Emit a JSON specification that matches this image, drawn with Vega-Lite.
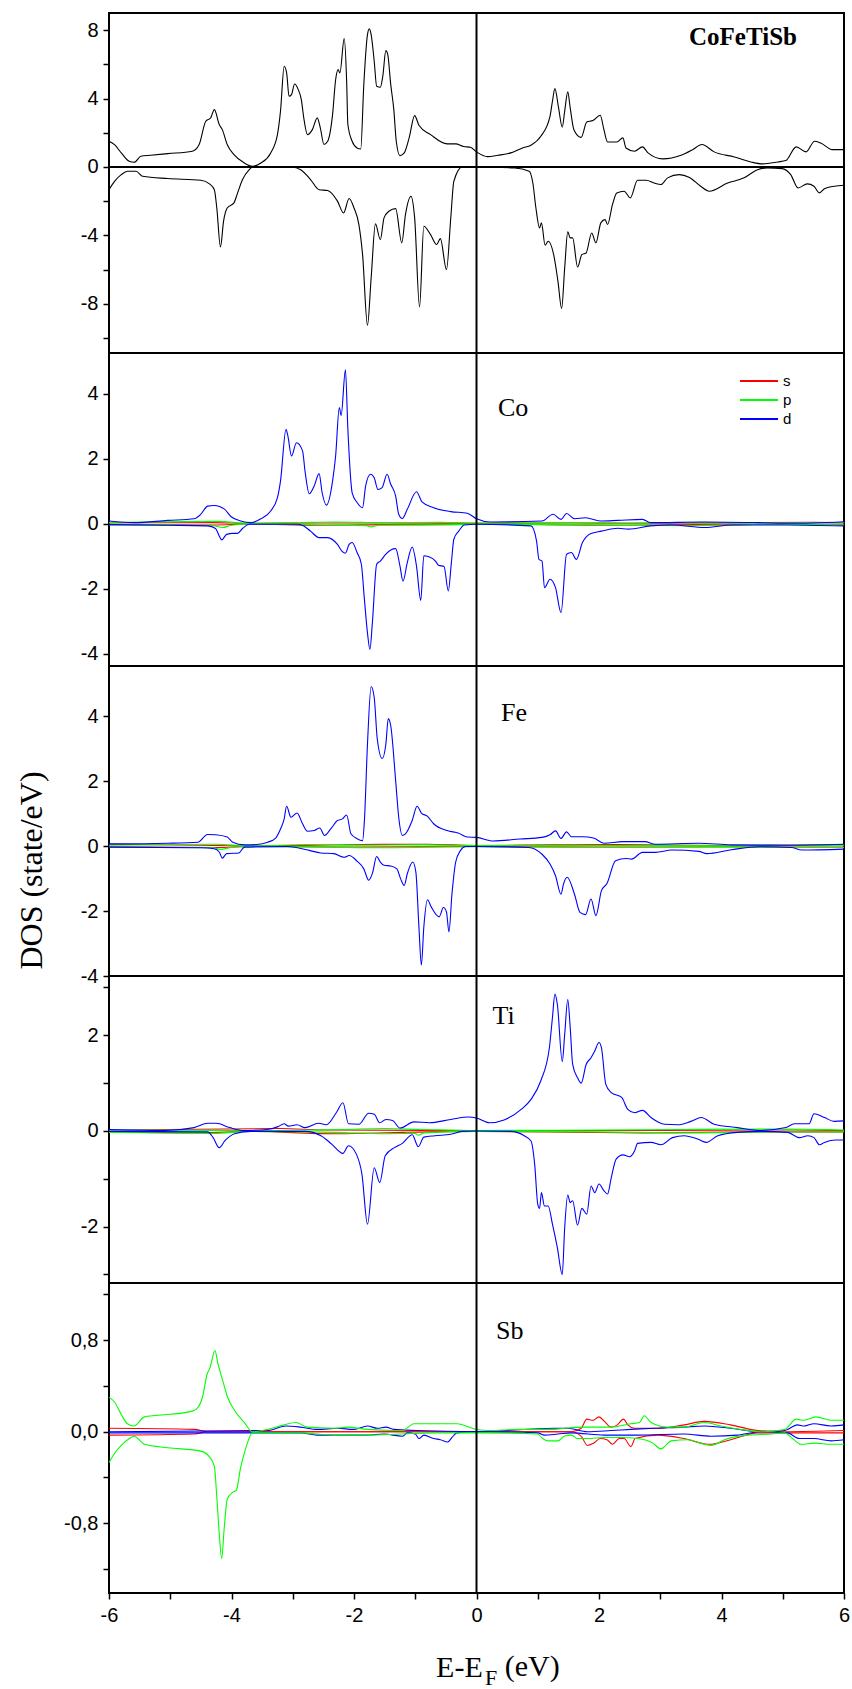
{
"$schema": "https://vega.github.io/schema/vega-lite/v6.json",
"background": "white",
"padding": {"left": 14, "top": 11, "right": 4, "bottom": 0},
"spacing": 0,
"bounds": "flush",
"config": {
  "view": {"stroke": "#000", "strokeWidth": 2},
  "axis": {"domain": false, "grid": false, "tickColor": "#000", "tickWidth": 1.5, "tickSize": 6, "labelFont": "Liberation Sans", "labelFontSize": 20, "labelColor": "#000", "labelPadding": 5, "labelFlush": false, "labelBound": false, "labelOverlap": false, "title": null},
  "text": {"color": "#000"},
  "line": {"interpolate": "monotone"}
},
"resolve": {"scale": {"y": "independent", "x": "shared", "color": "shared"}, "legend": {"color": "independent"}},
"datasets": {
"tot": [
{"spin":"up","E":-6,"dos":1.5},{"spin":"up","E":-5.91,"dos":1.3},{"spin":"up","E":-5.8,"dos":0.82},{"spin":"up","E":-5.67,"dos":0.33},{"spin":"up","E":-5.59,"dos":0.27},{"spin":"up","E":-5.48,"dos":0.62},{"spin":"up","E":-5.32,"dos":0.68},{"spin":"up","E":-5.04,"dos":0.78},{"spin":"up","E":-4.64,"dos":0.92},{"spin":"up","E":-4.53,"dos":1.3},{"spin":"up","E":-4.42,"dos":2.67},{"spin":"up","E":-4.34,"dos":2.87},{"spin":"up","E":-4.28,"dos":3.35},{"spin":"up","E":-4.2,"dos":2.48},{"spin":"up","E":-4.15,"dos":2.18},{"spin":"up","E":-4.07,"dos":1.31},{"spin":"up","E":-3.96,"dos":0.72},{"spin":"up","E":-3.79,"dos":0.23},{"spin":"up","E":-3.66,"dos":0.04},{"spin":"up","E":-3.52,"dos":0.23},{"spin":"up","E":-3.36,"dos":0.82},{"spin":"up","E":-3.25,"dos":1.89},{"spin":"up","E":-3.2,"dos":3.26},{"spin":"up","E":-3.14,"dos":5.89},{"spin":"up","E":-3.1,"dos":5.5},{"spin":"up","E":-3.06,"dos":4.13},{"spin":"up","E":-3.02,"dos":4.23},{"spin":"up","E":-2.97,"dos":4.85},{"spin":"up","E":-2.91,"dos":4.52},{"spin":"up","E":-2.86,"dos":3.94},{"spin":"up","E":-2.82,"dos":2.87},{"spin":"up","E":-2.76,"dos":1.89},{"spin":"up","E":-2.68,"dos":2.18},{"spin":"up","E":-2.6,"dos":2.87},{"spin":"up","E":-2.55,"dos":2.28},{"spin":"up","E":-2.49,"dos":1.31},{"spin":"up","E":-2.43,"dos":1.5},{"spin":"up","E":-2.35,"dos":3.06},{"spin":"up","E":-2.3,"dos":5.1},{"spin":"up","E":-2.26,"dos":5.69},{"spin":"up","E":-2.23,"dos":5.5},{"spin":"up","E":-2.16,"dos":7.5},{"spin":"up","E":-2.12,"dos":5.0},{"spin":"up","E":-2.1,"dos":2.48},{"spin":"up","E":-2.03,"dos":1.5},{"spin":"up","E":-1.95,"dos":1.11},{"spin":"up","E":-1.89,"dos":1.05},{"spin":"up","E":-1.84,"dos":4.81},{"spin":"up","E":-1.78,"dos":7.74},{"spin":"up","E":-1.75,"dos":8.07},{"spin":"up","E":-1.72,"dos":7.74},{"spin":"up","E":-1.67,"dos":6.18},{"spin":"up","E":-1.63,"dos":4.72},{"spin":"up","E":-1.57,"dos":4.66},{"spin":"up","E":-1.53,"dos":5.3},{"spin":"up","E":-1.48,"dos":6.8},{"spin":"up","E":-1.45,"dos":6.6},{"spin":"up","E":-1.4,"dos":4.81},{"spin":"up","E":-1.35,"dos":3.35},{"spin":"up","E":-1.31,"dos":1.5},{"spin":"up","E":-1.25,"dos":0.66},{"spin":"up","E":-1.18,"dos":0.82},{"spin":"up","E":-1.1,"dos":1.7},{"spin":"up","E":-1.01,"dos":3.0},{"spin":"up","E":-0.94,"dos":2.44},{"spin":"up","E":-0.75,"dos":1.89},{"spin":"up","E":-0.48,"dos":1.35},{"spin":"up","E":-0.34,"dos":1.35},{"spin":"up","E":-0.21,"dos":1.19},{"spin":"up","E":-0.1,"dos":1.15},{"spin":"up","E":0,"dos":0.88},{"spin":"up","E":0.18,"dos":0.6},{"spin":"up","E":0.35,"dos":0.68},{"spin":"up","E":0.56,"dos":0.82},{"spin":"up","E":0.75,"dos":1.11},{"spin":"up","E":0.89,"dos":1.27},{"spin":"up","E":1.05,"dos":1.79},{"spin":"up","E":1.2,"dos":2.96},{"spin":"up","E":1.24,"dos":3.84},{"spin":"up","E":1.28,"dos":4.58},{"spin":"up","E":1.34,"dos":3.45},{"spin":"up","E":1.4,"dos":2.32},{"spin":"up","E":1.44,"dos":3.26},{"spin":"up","E":1.49,"dos":4.39},{"spin":"up","E":1.53,"dos":3.45},{"spin":"up","E":1.59,"dos":2.18},{"spin":"up","E":1.71,"dos":1.73},{"spin":"up","E":1.8,"dos":2.63},{"spin":"up","E":1.9,"dos":2.71},{"spin":"up","E":2.02,"dos":3.02},{"spin":"up","E":2.08,"dos":2.18},{"spin":"up","E":2.14,"dos":1.46},{"spin":"up","E":2.29,"dos":1.46},{"spin":"up","E":2.39,"dos":1.7},{"spin":"up","E":2.44,"dos":1.11},{"spin":"up","E":2.58,"dos":0.92},{"spin":"up","E":2.71,"dos":1.17},{"spin":"up","E":2.8,"dos":0.82},{"spin":"up","E":3.04,"dos":0.47},{"spin":"up","E":3.34,"dos":0.68},{"spin":"up","E":3.53,"dos":1.01},{"spin":"up","E":3.68,"dos":1.31},{"spin":"up","E":3.88,"dos":0.88},{"spin":"up","E":4.21,"dos":0.58},{"spin":"up","E":4.48,"dos":0.29},{"spin":"up","E":4.67,"dos":0.18},{"spin":"up","E":4.92,"dos":0.29},{"spin":"up","E":5.05,"dos":0.37},{"spin":"up","E":5.22,"dos":1.17},{"spin":"up","E":5.38,"dos":0.88},{"spin":"up","E":5.52,"dos":1.5},{"spin":"up","E":5.62,"dos":1.4},{"spin":"up","E":5.81,"dos":1.01},{"spin":"up","E":6,"dos":1.01},
{"spin":"dn","E":-6,"dos":-1.33},{"spin":"dn","E":-5.91,"dos":-0.84},{"spin":"dn","E":-5.8,"dos":-0.45},{"spin":"dn","E":-5.7,"dos":-0.25},{"spin":"dn","E":-5.56,"dos":-0.25},{"spin":"dn","E":-5.45,"dos":-0.55},{"spin":"dn","E":-5.04,"dos":-0.68},{"spin":"dn","E":-4.5,"dos":-0.78},{"spin":"dn","E":-4.36,"dos":-0.99},{"spin":"dn","E":-4.28,"dos":-1.33},{"spin":"dn","E":-4.24,"dos":-2.4},{"spin":"dn","E":-4.18,"dos":-4.68},{"spin":"dn","E":-4.13,"dos":-3.18},{"spin":"dn","E":-4.07,"dos":-2.4},{"spin":"dn","E":-3.96,"dos":-2.1},{"spin":"dn","E":-3.9,"dos":-1.52},{"spin":"dn","E":-3.82,"dos":-0.74},{"spin":"dn","E":-3.71,"dos":-0.16},{"spin":"dn","E":-3.66,"dos":0},{"spin":"dn","E":-3.01,"dos":-0.02},{"spin":"dn","E":-2.87,"dos":-0.16},{"spin":"dn","E":-2.71,"dos":-0.74},{"spin":"dn","E":-2.57,"dos":-1.33},{"spin":"dn","E":-2.43,"dos":-1.38},{"spin":"dn","E":-2.27,"dos":-2.0},{"spin":"dn","E":-2.17,"dos":-2.69},{"spin":"dn","E":-2.08,"dos":-1.85},{"spin":"dn","E":-2.0,"dos":-2.4},{"spin":"dn","E":-1.92,"dos":-3.37},{"spin":"dn","E":-1.86,"dos":-5.13},{"spin":"dn","E":-1.78,"dos":-9.26},{"spin":"dn","E":-1.72,"dos":-6.49},{"spin":"dn","E":-1.65,"dos":-3.33},{"spin":"dn","E":-1.57,"dos":-4.25},{"spin":"dn","E":-1.51,"dos":-2.98},{"spin":"dn","E":-1.43,"dos":-2.59},{"spin":"dn","E":-1.32,"dos":-2.44},{"spin":"dn","E":-1.22,"dos":-4.44},{"spin":"dn","E":-1.16,"dos":-2.79},{"spin":"dn","E":-1.07,"dos":-1.72},{"spin":"dn","E":-1.01,"dos":-2.98},{"spin":"dn","E":-0.93,"dos":-8.19},{"spin":"dn","E":-0.86,"dos":-3.47},{"spin":"dn","E":-0.75,"dos":-3.96},{"spin":"dn","E":-0.65,"dos":-4.54},{"spin":"dn","E":-0.59,"dos":-4.19},{"spin":"dn","E":-0.49,"dos":-6.0},{"spin":"dn","E":-0.42,"dos":-2.98},{"spin":"dn","E":-0.37,"dos":-0.84},{"spin":"dn","E":-0.23,"dos":0},{"spin":"dn","E":0,"dos":0},{"spin":"dn","E":0.62,"dos":-0.06},{"spin":"dn","E":0.86,"dos":-0.25},{"spin":"dn","E":0.92,"dos":-0.94},{"spin":"dn","E":0.97,"dos":-2.4},{"spin":"dn","E":1.03,"dos":-3.57},{"spin":"dn","E":1.06,"dos":-3.27},{"spin":"dn","E":1.12,"dos":-4.58},{"spin":"dn","E":1.17,"dos":-4.35},{"spin":"dn","E":1.26,"dos":-5.13},{"spin":"dn","E":1.33,"dos":-6.69},{"spin":"dn","E":1.39,"dos":-8.28},{"spin":"dn","E":1.44,"dos":-5.9},{"spin":"dn","E":1.49,"dos":-3.8},{"spin":"dn","E":1.53,"dos":-4.15},{"spin":"dn","E":1.57,"dos":-4.15},{"spin":"dn","E":1.65,"dos":-5.85},{"spin":"dn","E":1.72,"dos":-5.13},{"spin":"dn","E":1.79,"dos":-5.03},{"spin":"dn","E":1.88,"dos":-3.86},{"spin":"dn","E":1.95,"dos":-4.44},{"spin":"dn","E":2.03,"dos":-3.27},{"spin":"dn","E":2.1,"dos":-3.08},{"spin":"dn","E":2.14,"dos":-3.37},{"spin":"dn","E":2.22,"dos":-2.2},{"spin":"dn","E":2.29,"dos":-1.52},{"spin":"dn","E":2.41,"dos":-1.42},{"spin":"dn","E":2.51,"dos":-1.81},{"spin":"dn","E":2.63,"dos":-0.78},{"spin":"dn","E":2.77,"dos":-0.78},{"spin":"dn","E":2.9,"dos":-0.94},{"spin":"dn","E":3.01,"dos":-1.03},{"spin":"dn","E":3.12,"dos":-0.64},{"spin":"dn","E":3.31,"dos":-0.45},{"spin":"dn","E":3.47,"dos":-0.6},{"spin":"dn","E":3.66,"dos":-1.13},{"spin":"dn","E":3.8,"dos":-1.42},{"spin":"dn","E":4.1,"dos":-0.94},{"spin":"dn","E":4.37,"dos":-0.64},{"spin":"dn","E":4.59,"dos":-0.16},{"spin":"dn","E":4.75,"dos":-0.06},{"spin":"dn","E":4.99,"dos":-0.1},{"spin":"dn","E":5.13,"dos":-0.45},{"spin":"dn","E":5.25,"dos":-1.23},{"spin":"dn","E":5.4,"dos":-0.99},{"spin":"dn","E":5.51,"dos":-1.13},{"spin":"dn","E":5.6,"dos":-1.52},{"spin":"dn","E":5.68,"dos":-1.27},{"spin":"dn","E":5.84,"dos":-1.13},{"spin":"dn","E":6,"dos":-1.07}
],
"co": [
{"orb":"s","spin":"up","E":-6,"dos":0.02},{"orb":"s","spin":"up","E":-4.3,"dos":0.03},{"orb":"s","spin":"up","E":-3.7,"dos":0.01},{"orb":"s","spin":"up","E":-2.6,"dos":0.02},{"orb":"s","spin":"up","E":-1,"dos":0.02},{"orb":"s","spin":"up","E":0,"dos":0.01},{"orb":"s","spin":"up","E":1.5,"dos":0.02},{"orb":"s","spin":"up","E":2.5,"dos":0.01},{"orb":"s","spin":"up","E":4,"dos":0.02},{"orb":"s","spin":"up","E":5.5,"dos":0.04},{"orb":"s","spin":"up","E":6,"dos":0.03},
{"orb":"s","spin":"dn","E":-6,"dos":-0.03},{"orb":"s","spin":"dn","E":-4.3,"dos":-0.04},{"orb":"s","spin":"dn","E":-3.7,"dos":-0.01},{"orb":"s","spin":"dn","E":-2.6,"dos":-0.05},{"orb":"s","spin":"dn","E":-1.5,"dos":-0.03},{"orb":"s","spin":"dn","E":0,"dos":-0.01},{"orb":"s","spin":"dn","E":1.5,"dos":-0.04},{"orb":"s","spin":"dn","E":2.3,"dos":-0.05},{"orb":"s","spin":"dn","E":4,"dos":-0.02},{"orb":"s","spin":"dn","E":6,"dos":-0.02},
{"orb":"p","spin":"up","E":-6,"dos":0.03},{"orb":"p","spin":"up","E":-4.25,"dos":0.07},{"orb":"p","spin":"up","E":-3.7,"dos":0.01},{"orb":"p","spin":"up","E":-2.9,"dos":0.03},{"orb":"p","spin":"up","E":-2.3,"dos":0.05},{"orb":"p","spin":"up","E":-1.5,"dos":0.03},{"orb":"p","spin":"up","E":-0.6,"dos":0.04},{"orb":"p","spin":"up","E":0,"dos":0.02},{"orb":"p","spin":"up","E":1.5,"dos":0.03},{"orb":"p","spin":"up","E":2.5,"dos":0.02},{"orb":"p","spin":"up","E":3.6,"dos":0.04},{"orb":"p","spin":"up","E":4.5,"dos":0.02},{"orb":"p","spin":"up","E":6,"dos":0.03},
{"orb":"p","spin":"dn","E":-6,"dos":-0.03},{"orb":"p","spin":"dn","E":-4.3,"dos":-0.06},{"orb":"p","spin":"dn","E":-4.15,"dos":-0.12},{"orb":"p","spin":"dn","E":-4.0,"dos":-0.05},{"orb":"p","spin":"dn","E":-3.7,"dos":-0.01},{"orb":"p","spin":"dn","E":-2.5,"dos":-0.04},{"orb":"p","spin":"dn","E":-1.8,"dos":-0.06},{"orb":"p","spin":"dn","E":-1.72,"dos":-0.1},{"orb":"p","spin":"dn","E":-1.6,"dos":-0.05},{"orb":"p","spin":"dn","E":-0.5,"dos":-0.04},{"orb":"p","spin":"dn","E":0,"dos":-0.02},{"orb":"p","spin":"dn","E":1.5,"dos":-0.03},{"orb":"p","spin":"dn","E":3.5,"dos":-0.06},{"orb":"p","spin":"dn","E":4.3,"dos":-0.05},{"orb":"p","spin":"dn","E":4.6,"dos":-0.02},{"orb":"p","spin":"dn","E":6,"dos":-0.04},
{"orb":"d","spin":"up","E":-6,"dos":0.08},{"orb":"d","spin":"up","E":-5.59,"dos":0.03},{"orb":"d","spin":"up","E":-5.04,"dos":0.1},{"orb":"d","spin":"up","E":-4.61,"dos":0.15},{"orb":"d","spin":"up","E":-4.5,"dos":0.29},{"orb":"d","spin":"up","E":-4.39,"dos":0.54},{"orb":"d","spin":"up","E":-4.28,"dos":0.56},{"orb":"d","spin":"up","E":-4.11,"dos":0.44},{"orb":"d","spin":"up","E":-4.01,"dos":0.22},{"orb":"d","spin":"up","E":-3.85,"dos":0.08},{"orb":"d","spin":"up","E":-3.68,"dos":0.03},{"orb":"d","spin":"up","E":-3.52,"dos":0.15},{"orb":"d","spin":"up","E":-3.36,"dos":0.39},{"orb":"d","spin":"up","E":-3.25,"dos":0.8},{"orb":"d","spin":"up","E":-3.2,"dos":1.31},{"orb":"d","spin":"up","E":-3.11,"dos":2.9},{"orb":"d","spin":"up","E":-3.08,"dos":2.7},{"orb":"d","spin":"up","E":-3.02,"dos":2.08},{"orb":"d","spin":"up","E":-2.94,"dos":2.49},{"orb":"d","spin":"up","E":-2.84,"dos":2.24},{"orb":"d","spin":"up","E":-2.8,"dos":1.62},{"orb":"d","spin":"up","E":-2.73,"dos":0.92},{"orb":"d","spin":"up","E":-2.65,"dos":1.16},{"orb":"d","spin":"up","E":-2.57,"dos":1.54},{"orb":"d","spin":"up","E":-2.52,"dos":0.95},{"orb":"d","spin":"up","E":-2.45,"dos":0.57},{"orb":"d","spin":"up","E":-2.35,"dos":1.31},{"orb":"d","spin":"up","E":-2.3,"dos":2.08},{"orb":"d","spin":"up","E":-2.24,"dos":3.57},{"orb":"d","spin":"up","E":-2.21,"dos":3.33},{"orb":"d","spin":"up","E":-2.14,"dos":4.73},{"orb":"d","spin":"up","E":-2.1,"dos":2.9},{"orb":"d","spin":"up","E":-2.03,"dos":0.95},{"orb":"d","spin":"up","E":-1.95,"dos":0.65},{"orb":"d","spin":"up","E":-1.86,"dos":0.49},{"orb":"d","spin":"up","E":-1.81,"dos":1.16},{"orb":"d","spin":"up","E":-1.73,"dos":1.52},{"orb":"d","spin":"up","E":-1.67,"dos":1.41},{"orb":"d","spin":"up","E":-1.61,"dos":1.05},{"orb":"d","spin":"up","E":-1.54,"dos":1.11},{"orb":"d","spin":"up","E":-1.46,"dos":1.52},{"orb":"d","spin":"up","E":-1.4,"dos":1.21},{"orb":"d","spin":"up","E":-1.32,"dos":0.85},{"orb":"d","spin":"up","E":-1.27,"dos":0.29},{"orb":"d","spin":"up","E":-1.21,"dos":0.16},{"orb":"d","spin":"up","E":-1.13,"dos":0.44},{"orb":"d","spin":"up","E":-0.98,"dos":0.98},{"orb":"d","spin":"up","E":-0.89,"dos":0.67},{"orb":"d","spin":"up","E":-0.7,"dos":0.49},{"orb":"d","spin":"up","E":-0.42,"dos":0.37},{"orb":"d","spin":"up","E":-0.15,"dos":0.32},{"orb":"d","spin":"up","E":0,"dos":0.15},{"orb":"d","spin":"up","E":0.23,"dos":0.05},{"orb":"d","spin":"up","E":1.07,"dos":0.08},{"orb":"d","spin":"up","E":1.25,"dos":0.29},{"orb":"d","spin":"up","E":1.38,"dos":0.13},{"orb":"d","spin":"up","E":1.47,"dos":0.31},{"orb":"d","spin":"up","E":1.6,"dos":0.15},{"orb":"d","spin":"up","E":1.78,"dos":0.18},{"orb":"d","spin":"up","E":2.04,"dos":0.08},{"orb":"d","spin":"up","E":2.31,"dos":0.1},{"orb":"d","spin":"up","E":2.71,"dos":0.13},{"orb":"d","spin":"up","E":2.84,"dos":0.03},{"orb":"d","spin":"up","E":3.73,"dos":0.05},{"orb":"d","spin":"up","E":4.61,"dos":0.03},{"orb":"d","spin":"up","E":5.14,"dos":0.01},{"orb":"d","spin":"up","E":6,"dos":0.06},
{"orb":"d","spin":"dn","E":-6,"dos":-0.03},{"orb":"d","spin":"dn","E":-5.04,"dos":-0.05},{"orb":"d","spin":"dn","E":-4.39,"dos":-0.07},{"orb":"d","spin":"dn","E":-4.26,"dos":-0.15},{"orb":"d","spin":"dn","E":-4.2,"dos":-0.38},{"orb":"d","spin":"dn","E":-4.16,"dos":-0.5},{"orb":"d","spin":"dn","E":-4.08,"dos":-0.33},{"orb":"d","spin":"dn","E":-3.98,"dos":-0.3},{"orb":"d","spin":"dn","E":-3.9,"dos":-0.3},{"orb":"d","spin":"dn","E":-3.82,"dos":-0.15},{"orb":"d","spin":"dn","E":-3.71,"dos":-0.02},{"orb":"d","spin":"dn","E":-2.92,"dos":-0.02},{"orb":"d","spin":"dn","E":-2.82,"dos":-0.07},{"orb":"d","spin":"dn","E":-2.71,"dos":-0.23},{"orb":"d","spin":"dn","E":-2.57,"dos":-0.43},{"orb":"d","spin":"dn","E":-2.43,"dos":-0.43},{"orb":"d","spin":"dn","E":-2.27,"dos":-0.64},{"orb":"d","spin":"dn","E":-2.19,"dos":-0.86},{"orb":"d","spin":"dn","E":-2.14,"dos":-0.91},{"orb":"d","spin":"dn","E":-2.08,"dos":-0.64},{"orb":"d","spin":"dn","E":-2.03,"dos":-0.58},{"orb":"d","spin":"dn","E":-1.95,"dos":-0.89},{"orb":"d","spin":"dn","E":-1.88,"dos":-1.25},{"orb":"d","spin":"dn","E":-1.83,"dos":-2.33},{"orb":"d","spin":"dn","E":-1.78,"dos":-3.36},{"orb":"d","spin":"dn","E":-1.74,"dos":-3.87},{"orb":"d","spin":"dn","E":-1.7,"dos":-3.05},{"orb":"d","spin":"dn","E":-1.63,"dos":-1.25},{"orb":"d","spin":"dn","E":-1.57,"dos":-1.15},{"orb":"d","spin":"dn","E":-1.48,"dos":-0.94},{"orb":"d","spin":"dn","E":-1.4,"dos":-0.81},{"orb":"d","spin":"dn","E":-1.32,"dos":-0.77},{"orb":"d","spin":"dn","E":-1.25,"dos":-1.3},{"orb":"d","spin":"dn","E":-1.2,"dos":-1.77},{"orb":"d","spin":"dn","E":-1.13,"dos":-1.2},{"orb":"d","spin":"dn","E":-1.05,"dos":-0.72},{"orb":"d","spin":"dn","E":-0.98,"dos":-1.3},{"orb":"d","spin":"dn","E":-0.91,"dos":-2.36},{"orb":"d","spin":"dn","E":-0.86,"dos":-0.99},{"orb":"d","spin":"dn","E":-0.78,"dos":-1.02},{"orb":"d","spin":"dn","E":-0.67,"dos":-1.15},{"orb":"d","spin":"dn","E":-0.62,"dos":-1.28},{"orb":"d","spin":"dn","E":-0.53,"dos":-1.32},{"orb":"d","spin":"dn","E":-0.46,"dos":-2.07},{"orb":"d","spin":"dn","E":-0.41,"dos":-1.2},{"orb":"d","spin":"dn","E":-0.37,"dos":-0.48},{"orb":"d","spin":"dn","E":-0.29,"dos":-0.23},{"orb":"d","spin":"dn","E":-0.2,"dos":-0.04},{"orb":"d","spin":"dn","E":0,"dos":-0.02},{"orb":"d","spin":"dn","E":0.89,"dos":-0.07},{"orb":"d","spin":"dn","E":0.98,"dos":-0.53},{"orb":"d","spin":"dn","E":1.02,"dos":-1.1},{"orb":"d","spin":"dn","E":1.07,"dos":-1.15},{"orb":"d","spin":"dn","E":1.11,"dos":-1.97},{"orb":"d","spin":"dn","E":1.2,"dos":-1.71},{"orb":"d","spin":"dn","E":1.29,"dos":-1.97},{"orb":"d","spin":"dn","E":1.38,"dos":-2.74},{"orb":"d","spin":"dn","E":1.47,"dos":-0.94},{"orb":"d","spin":"dn","E":1.55,"dos":-0.89},{"orb":"d","spin":"dn","E":1.63,"dos":-1.1},{"orb":"d","spin":"dn","E":1.73,"dos":-0.58},{"orb":"d","spin":"dn","E":1.86,"dos":-0.31},{"orb":"d","spin":"dn","E":2.04,"dos":-0.23},{"orb":"d","spin":"dn","E":2.31,"dos":-0.14},{"orb":"d","spin":"dn","E":2.48,"dos":-0.17},{"orb":"d","spin":"dn","E":2.84,"dos":-0.07},{"orb":"d","spin":"dn","E":3.19,"dos":-0.04},{"orb":"d","spin":"dn","E":3.73,"dos":-0.12},{"orb":"d","spin":"dn","E":4.17,"dos":-0.04},{"orb":"d","spin":"dn","E":5.05,"dos":-0.04},{"orb":"d","spin":"dn","E":6,"dos":-0.07}
],
"fe": [
{"orb":"s","spin":"up","E":-6,"dos":0.06},{"orb":"s","spin":"up","E":-4.5,"dos":0.03},{"orb":"s","spin":"up","E":-3.7,"dos":0.01},{"orb":"s","spin":"up","E":-1.9,"dos":0.05},{"orb":"s","spin":"up","E":-0.8,"dos":0.06},{"orb":"s","spin":"up","E":0,"dos":0.02},{"orb":"s","spin":"up","E":1.2,"dos":0.04},{"orb":"s","spin":"up","E":2.3,"dos":0.05},{"orb":"s","spin":"up","E":4,"dos":0.02},{"orb":"s","spin":"up","E":6,"dos":0.05},
{"orb":"s","spin":"dn","E":-6,"dos":-0.02},{"orb":"s","spin":"dn","E":-4.2,"dos":-0.04},{"orb":"s","spin":"dn","E":-3.7,"dos":-0.01},{"orb":"s","spin":"dn","E":-2,"dos":-0.03},{"orb":"s","spin":"dn","E":0,"dos":-0.01},{"orb":"s","spin":"dn","E":2,"dos":-0.03},{"orb":"s","spin":"dn","E":4,"dos":-0.02},{"orb":"s","spin":"dn","E":6,"dos":-0.03},
{"orb":"p","spin":"up","E":-6,"dos":0.03},{"orb":"p","spin":"up","E":-4.25,"dos":0.06},{"orb":"p","spin":"up","E":-3.7,"dos":0.01},{"orb":"p","spin":"up","E":-2.7,"dos":0.05},{"orb":"p","spin":"up","E":-1.8,"dos":0.03},{"orb":"p","spin":"up","E":-0.9,"dos":0.04},{"orb":"p","spin":"up","E":0,"dos":0.02},{"orb":"p","spin":"up","E":2,"dos":0.02},{"orb":"p","spin":"up","E":4,"dos":0.01},{"orb":"p","spin":"up","E":6,"dos":0.03},
{"orb":"p","spin":"dn","E":-6,"dos":-0.03},{"orb":"p","spin":"dn","E":-4.3,"dos":-0.05},{"orb":"p","spin":"dn","E":-4.18,"dos":-0.1},{"orb":"p","spin":"dn","E":-4.0,"dos":-0.04},{"orb":"p","spin":"dn","E":-3.7,"dos":-0.01},{"orb":"p","spin":"dn","E":-2.5,"dos":-0.03},{"orb":"p","spin":"dn","E":-1.5,"dos":-0.05},{"orb":"p","spin":"dn","E":0,"dos":-0.02},{"orb":"p","spin":"dn","E":2,"dos":-0.04},{"orb":"p","spin":"dn","E":4,"dos":-0.03},{"orb":"p","spin":"dn","E":6,"dos":-0.04},
{"orb":"d","spin":"up","E":-6,"dos":0.07},{"orb":"d","spin":"up","E":-5.04,"dos":0.09},{"orb":"d","spin":"up","E":-4.55,"dos":0.12},{"orb":"d","spin":"up","E":-4.39,"dos":0.36},{"orb":"d","spin":"up","E":-4.26,"dos":0.35},{"orb":"d","spin":"up","E":-4.07,"dos":0.28},{"orb":"d","spin":"up","E":-3.98,"dos":0.12},{"orb":"d","spin":"up","E":-3.79,"dos":0.04},{"orb":"d","spin":"up","E":-3.58,"dos":0.05},{"orb":"d","spin":"up","E":-3.41,"dos":0.12},{"orb":"d","spin":"up","E":-3.28,"dos":0.25},{"orb":"d","spin":"up","E":-3.2,"dos":0.53},{"orb":"d","spin":"up","E":-3.14,"dos":0.84},{"orb":"d","spin":"up","E":-3.1,"dos":1.23},{"orb":"d","spin":"up","E":-3.03,"dos":0.89},{"orb":"d","spin":"up","E":-2.93,"dos":1.02},{"orb":"d","spin":"up","E":-2.84,"dos":0.69},{"orb":"d","spin":"up","E":-2.76,"dos":0.46},{"orb":"d","spin":"up","E":-2.65,"dos":0.48},{"orb":"d","spin":"up","E":-2.56,"dos":0.56},{"orb":"d","spin":"up","E":-2.48,"dos":0.33},{"orb":"d","spin":"up","E":-2.38,"dos":0.53},{"orb":"d","spin":"up","E":-2.27,"dos":0.79},{"orb":"d","spin":"up","E":-2.19,"dos":0.84},{"orb":"d","spin":"up","E":-2.12,"dos":0.96},{"orb":"d","spin":"up","E":-2.05,"dos":0.38},{"orb":"d","spin":"up","E":-1.95,"dos":0.23},{"orb":"d","spin":"up","E":-1.86,"dos":0.17},{"orb":"d","spin":"up","E":-1.83,"dos":0.79},{"orb":"d","spin":"up","E":-1.78,"dos":3.14},{"orb":"d","spin":"up","E":-1.72,"dos":4.92},{"orb":"d","spin":"up","E":-1.67,"dos":4.58},{"orb":"d","spin":"up","E":-1.62,"dos":3.3},{"orb":"d","spin":"up","E":-1.54,"dos":2.7},{"orb":"d","spin":"up","E":-1.48,"dos":3.14},{"orb":"d","spin":"up","E":-1.44,"dos":3.93},{"orb":"d","spin":"up","E":-1.4,"dos":3.71},{"orb":"d","spin":"up","E":-1.32,"dos":2.02},{"orb":"d","spin":"up","E":-1.27,"dos":0.89},{"orb":"d","spin":"up","E":-1.21,"dos":0.33},{"orb":"d","spin":"up","E":-1.16,"dos":0.38},{"orb":"d","spin":"up","E":-1.05,"dos":0.79},{"orb":"d","spin":"up","E":-0.97,"dos":1.23},{"orb":"d","spin":"up","E":-0.9,"dos":1.02},{"orb":"d","spin":"up","E":-0.8,"dos":0.92},{"orb":"d","spin":"up","E":-0.7,"dos":0.69},{"orb":"d","spin":"up","E":-0.48,"dos":0.48},{"orb":"d","spin":"up","E":-0.29,"dos":0.4},{"orb":"d","spin":"up","E":-0.15,"dos":0.28},{"orb":"d","spin":"up","E":0,"dos":0.27},{"orb":"d","spin":"up","E":0.27,"dos":0.16},{"orb":"d","spin":"up","E":0.71,"dos":0.22},{"orb":"d","spin":"up","E":1.07,"dos":0.27},{"orb":"d","spin":"up","E":1.2,"dos":0.35},{"orb":"d","spin":"up","E":1.29,"dos":0.47},{"orb":"d","spin":"up","E":1.38,"dos":0.24},{"orb":"d","spin":"up","E":1.47,"dos":0.44},{"orb":"d","spin":"up","E":1.55,"dos":0.29},{"orb":"d","spin":"up","E":1.73,"dos":0.29},{"orb":"d","spin":"up","E":1.91,"dos":0.25},{"orb":"d","spin":"up","E":2.08,"dos":0.09},{"orb":"d","spin":"up","E":2.39,"dos":0.14},{"orb":"d","spin":"up","E":2.75,"dos":0.14},{"orb":"d","spin":"up","E":2.92,"dos":0.06},{"orb":"d","spin":"up","E":3.63,"dos":0.09},{"orb":"d","spin":"up","E":4.16,"dos":0.04},{"orb":"d","spin":"up","E":5.04,"dos":0.03},{"orb":"d","spin":"up","E":6,"dos":0.06},
{"orb":"d","spin":"dn","E":-6,"dos":-0.03},{"orb":"d","spin":"dn","E":-4.5,"dos":-0.05},{"orb":"d","spin":"dn","E":-4.28,"dos":-0.08},{"orb":"d","spin":"dn","E":-4.2,"dos":-0.18},{"orb":"d","spin":"dn","E":-4.15,"dos":-0.37},{"orb":"d","spin":"dn","E":-4.08,"dos":-0.23},{"orb":"d","spin":"dn","E":-3.88,"dos":-0.21},{"orb":"d","spin":"dn","E":-3.79,"dos":-0.03},{"orb":"d","spin":"dn","E":-3.09,"dos":-0.01},{"orb":"d","spin":"dn","E":-2.92,"dos":-0.05},{"orb":"d","spin":"dn","E":-2.73,"dos":-0.13},{"orb":"d","spin":"dn","E":-2.54,"dos":-0.21},{"orb":"d","spin":"dn","E":-2.33,"dos":-0.23},{"orb":"d","spin":"dn","E":-2.16,"dos":-0.34},{"orb":"d","spin":"dn","E":-2.08,"dos":-0.29},{"orb":"d","spin":"dn","E":-1.95,"dos":-0.46},{"orb":"d","spin":"dn","E":-1.84,"dos":-0.7},{"orb":"d","spin":"dn","E":-1.76,"dos":-1.05},{"orb":"d","spin":"dn","E":-1.7,"dos":-0.84},{"orb":"d","spin":"dn","E":-1.63,"dos":-0.32},{"orb":"d","spin":"dn","E":-1.57,"dos":-0.49},{"orb":"d","spin":"dn","E":-1.51,"dos":-0.59},{"orb":"d","spin":"dn","E":-1.4,"dos":-0.61},{"orb":"d","spin":"dn","E":-1.3,"dos":-0.7},{"orb":"d","spin":"dn","E":-1.24,"dos":-1.0},{"orb":"d","spin":"dn","E":-1.18,"dos":-1.21},{"orb":"d","spin":"dn","E":-1.13,"dos":-0.85},{"orb":"d","spin":"dn","E":-1.04,"dos":-0.49},{"orb":"d","spin":"dn","E":-0.99,"dos":-0.8},{"orb":"d","spin":"dn","E":-0.94,"dos":-2.49},{"orb":"d","spin":"dn","E":-0.9,"dos":-3.66},{"orb":"d","spin":"dn","E":-0.86,"dos":-2.49},{"orb":"d","spin":"dn","E":-0.8,"dos":-1.65},{"orb":"d","spin":"dn","E":-0.74,"dos":-1.87},{"orb":"d","spin":"dn","E":-0.61,"dos":-2.18},{"orb":"d","spin":"dn","E":-0.54,"dos":-1.89},{"orb":"d","spin":"dn","E":-0.49,"dos":-2.03},{"orb":"d","spin":"dn","E":-0.45,"dos":-2.64},{"orb":"d","spin":"dn","E":-0.4,"dos":-1.46},{"orb":"d","spin":"dn","E":-0.34,"dos":-0.49},{"orb":"d","spin":"dn","E":-0.26,"dos":-0.13},{"orb":"d","spin":"dn","E":-0.18,"dos":-0.01},{"orb":"d","spin":"dn","E":0,"dos":-0.01},{"orb":"d","spin":"dn","E":0.85,"dos":-0.04},{"orb":"d","spin":"dn","E":1.07,"dos":-0.25},{"orb":"d","spin":"dn","E":1.2,"dos":-0.55},{"orb":"d","spin":"dn","E":1.29,"dos":-0.91},{"orb":"d","spin":"dn","E":1.38,"dos":-1.48},{"orb":"d","spin":"dn","E":1.42,"dos":-1.17},{"orb":"d","spin":"dn","E":1.48,"dos":-0.96},{"orb":"d","spin":"dn","E":1.6,"dos":-1.48},{"orb":"d","spin":"dn","E":1.69,"dos":-2.04},{"orb":"d","spin":"dn","E":1.78,"dos":-2.11},{"orb":"d","spin":"dn","E":1.87,"dos":-1.63},{"orb":"d","spin":"dn","E":1.95,"dos":-2.14},{"orb":"d","spin":"dn","E":2.04,"dos":-1.37},{"orb":"d","spin":"dn","E":2.13,"dos":-1.15},{"orb":"d","spin":"dn","E":2.27,"dos":-0.45},{"orb":"d","spin":"dn","E":2.44,"dos":-0.38},{"orb":"d","spin":"dn","E":2.53,"dos":-0.4},{"orb":"d","spin":"dn","E":2.71,"dos":-0.19},{"orb":"d","spin":"dn","E":2.92,"dos":-0.19},{"orb":"d","spin":"dn","E":3.19,"dos":-0.12},{"orb":"d","spin":"dn","E":3.63,"dos":-0.16},{"orb":"d","spin":"dn","E":3.76,"dos":-0.23},{"orb":"d","spin":"dn","E":4.16,"dos":-0.11},{"orb":"d","spin":"dn","E":4.61,"dos":-0.02},{"orb":"d","spin":"dn","E":5.14,"dos":-0.04},{"orb":"d","spin":"dn","E":5.31,"dos":-0.12},{"orb":"d","spin":"dn","E":6,"dos":-0.09}
],
"ti": [
{"orb":"s","spin":"up","E":-6,"dos":0.02},{"orb":"s","spin":"up","E":-3.2,"dos":0.05},{"orb":"s","spin":"up","E":-2.5,"dos":0.02},{"orb":"s","spin":"up","E":0,"dos":0.01},{"orb":"s","spin":"up","E":3,"dos":0.01},{"orb":"s","spin":"up","E":5,"dos":0.02},{"orb":"s","spin":"up","E":6,"dos":0.01},
{"orb":"s","spin":"dn","E":-6,"dos":-0.02},{"orb":"s","spin":"dn","E":-4.5,"dos":-0.04},{"orb":"s","spin":"dn","E":-3.7,"dos":-0.01},{"orb":"s","spin":"dn","E":-2.3,"dos":-0.06},{"orb":"s","spin":"dn","E":-1.9,"dos":-0.05},{"orb":"s","spin":"dn","E":-1.2,"dos":-0.03},{"orb":"s","spin":"dn","E":0,"dos":-0.01},{"orb":"s","spin":"dn","E":1.8,"dos":-0.03},{"orb":"s","spin":"dn","E":2.8,"dos":-0.04},{"orb":"s","spin":"dn","E":4.5,"dos":-0.02},{"orb":"s","spin":"dn","E":6,"dos":-0.02},
{"orb":"p","spin":"up","E":-6,"dos":0.02},{"orb":"p","spin":"up","E":-3.5,"dos":0.01},{"orb":"p","spin":"up","E":-2.2,"dos":0.03},{"orb":"p","spin":"up","E":-1.5,"dos":0.05},{"orb":"p","spin":"up","E":-0.9,"dos":0.03},{"orb":"p","spin":"up","E":0,"dos":0.01},{"orb":"p","spin":"up","E":2,"dos":0.02},{"orb":"p","spin":"up","E":3.3,"dos":0.03},{"orb":"p","spin":"up","E":5.1,"dos":0.04},{"orb":"p","spin":"up","E":6,"dos":0.02},
{"orb":"p","spin":"dn","E":-6,"dos":-0.03},{"orb":"p","spin":"dn","E":-4.3,"dos":-0.05},{"orb":"p","spin":"dn","E":-3.7,"dos":-0.01},{"orb":"p","spin":"dn","E":-2.3,"dos":-0.03},{"orb":"p","spin":"dn","E":-1.5,"dos":-0.06},{"orb":"p","spin":"dn","E":-1.0,"dos":-0.05},{"orb":"p","spin":"dn","E":-0.95,"dos":-0.09},{"orb":"p","spin":"dn","E":-0.85,"dos":-0.04},{"orb":"p","spin":"dn","E":0,"dos":-0.01},{"orb":"p","spin":"dn","E":2,"dos":-0.02},{"orb":"p","spin":"dn","E":3.5,"dos":-0.04},{"orb":"p","spin":"dn","E":5,"dos":-0.02},{"orb":"p","spin":"dn","E":6,"dos":-0.02},
{"orb":"d","spin":"up","E":-6,"dos":0.03},{"orb":"d","spin":"up","E":-5.09,"dos":0.01},{"orb":"d","spin":"up","E":-4.61,"dos":0.07},{"orb":"d","spin":"up","E":-4.39,"dos":0.16},{"orb":"d","spin":"up","E":-4.25,"dos":0.16},{"orb":"d","spin":"up","E":-4.03,"dos":0.07},{"orb":"d","spin":"up","E":-3.81,"dos":0.01},{"orb":"d","spin":"up","E":-3.42,"dos":0.03},{"orb":"d","spin":"up","E":-3.24,"dos":0.09},{"orb":"d","spin":"up","E":-3.14,"dos":0.15},{"orb":"d","spin":"up","E":-3.07,"dos":0.1},{"orb":"d","spin":"up","E":-2.93,"dos":0.13},{"orb":"d","spin":"up","E":-2.8,"dos":0.07},{"orb":"d","spin":"up","E":-2.58,"dos":0.16},{"orb":"d","spin":"up","E":-2.45,"dos":0.13},{"orb":"d","spin":"up","E":-2.29,"dos":0.38},{"orb":"d","spin":"up","E":-2.18,"dos":0.59},{"orb":"d","spin":"up","E":-2.09,"dos":0.15},{"orb":"d","spin":"up","E":-1.92,"dos":0.14},{"orb":"d","spin":"up","E":-1.76,"dos":0.37},{"orb":"d","spin":"up","E":-1.67,"dos":0.35},{"orb":"d","spin":"up","E":-1.58,"dos":0.17},{"orb":"d","spin":"up","E":-1.48,"dos":0.24},{"orb":"d","spin":"up","E":-1.37,"dos":0.22},{"orb":"d","spin":"up","E":-1.25,"dos":0.06},{"orb":"d","spin":"up","E":-1.02,"dos":0.19},{"orb":"d","spin":"up","E":-0.77,"dos":0.17},{"orb":"d","spin":"up","E":-0.42,"dos":0.24},{"orb":"d","spin":"up","E":-0.13,"dos":0.29},{"orb":"d","spin":"up","E":0,"dos":0.27},{"orb":"d","spin":"up","E":0.21,"dos":0.17},{"orb":"d","spin":"up","E":0.45,"dos":0.23},{"orb":"d","spin":"up","E":0.73,"dos":0.45},{"orb":"d","spin":"up","E":0.89,"dos":0.66},{"orb":"d","spin":"up","E":1.05,"dos":1.05},{"orb":"d","spin":"up","E":1.19,"dos":1.74},{"orb":"d","spin":"up","E":1.24,"dos":2.37},{"orb":"d","spin":"up","E":1.28,"dos":2.86},{"orb":"d","spin":"up","E":1.32,"dos":2.65},{"orb":"d","spin":"up","E":1.4,"dos":1.45},{"orb":"d","spin":"up","E":1.44,"dos":2.02},{"orb":"d","spin":"up","E":1.49,"dos":2.75},{"orb":"d","spin":"up","E":1.53,"dos":2.16},{"orb":"d","spin":"up","E":1.57,"dos":1.39},{"orb":"d","spin":"up","E":1.65,"dos":1.11},{"orb":"d","spin":"up","E":1.71,"dos":1.0},{"orb":"d","spin":"up","E":1.79,"dos":1.39},{"orb":"d","spin":"up","E":1.87,"dos":1.53},{"orb":"d","spin":"up","E":1.93,"dos":1.67},{"orb":"d","spin":"up","E":2.0,"dos":1.85},{"orb":"d","spin":"up","E":2.04,"dos":1.74},{"orb":"d","spin":"up","E":2.11,"dos":0.98},{"orb":"d","spin":"up","E":2.2,"dos":0.8},{"orb":"d","spin":"up","E":2.37,"dos":0.7},{"orb":"d","spin":"up","E":2.47,"dos":0.45},{"orb":"d","spin":"up","E":2.58,"dos":0.38},{"orb":"d","spin":"up","E":2.71,"dos":0.43},{"orb":"d","spin":"up","E":2.85,"dos":0.28},{"orb":"d","spin":"up","E":3.07,"dos":0.14},{"orb":"d","spin":"up","E":3.29,"dos":0.13},{"orb":"d","spin":"up","E":3.5,"dos":0.2},{"orb":"d","spin":"up","E":3.67,"dos":0.28},{"orb":"d","spin":"up","E":3.88,"dos":0.14},{"orb":"d","spin":"up","E":4.26,"dos":0.07},{"orb":"d","spin":"up","E":4.64,"dos":0.01},{"orb":"d","spin":"up","E":5.05,"dos":0.07},{"orb":"d","spin":"up","E":5.19,"dos":0.15},{"orb":"d","spin":"up","E":5.43,"dos":0.15},{"orb":"d","spin":"up","E":5.51,"dos":0.36},{"orb":"d","spin":"up","E":5.68,"dos":0.28},{"orb":"d","spin":"up","E":5.84,"dos":0.2},{"orb":"d","spin":"up","E":6,"dos":0.21},
{"orb":"d","spin":"dn","E":-6,"dos":-0.01},{"orb":"d","spin":"dn","E":-4.39,"dos":-0.02},{"orb":"d","spin":"dn","E":-4.3,"dos":-0.14},{"orb":"d","spin":"dn","E":-4.2,"dos":-0.35},{"orb":"d","spin":"dn","E":-4.11,"dos":-0.21},{"orb":"d","spin":"dn","E":-3.95,"dos":-0.06},{"orb":"d","spin":"dn","E":-3.68,"dos":-0.01},{"orb":"d","spin":"dn","E":-2.8,"dos":-0.01},{"orb":"d","spin":"dn","E":-2.54,"dos":-0.1},{"orb":"d","spin":"dn","E":-2.36,"dos":-0.28},{"orb":"d","spin":"dn","E":-2.18,"dos":-0.47},{"orb":"d","spin":"dn","E":-2.09,"dos":-0.31},{"orb":"d","spin":"dn","E":-1.96,"dos":-0.49},{"orb":"d","spin":"dn","E":-1.87,"dos":-0.91},{"orb":"d","spin":"dn","E":-1.78,"dos":-1.95},{"orb":"d","spin":"dn","E":-1.67,"dos":-0.77},{"orb":"d","spin":"dn","E":-1.58,"dos":-1.08},{"orb":"d","spin":"dn","E":-1.49,"dos":-0.52},{"orb":"d","spin":"dn","E":-1.34,"dos":-0.35},{"orb":"d","spin":"dn","E":-1.21,"dos":-0.26},{"orb":"d","spin":"dn","E":-1.05,"dos":-0.08},{"orb":"d","spin":"dn","E":-0.95,"dos":-0.33},{"orb":"d","spin":"dn","E":-0.86,"dos":-0.13},{"orb":"d","spin":"dn","E":-0.68,"dos":-0.1},{"orb":"d","spin":"dn","E":-0.42,"dos":-0.07},{"orb":"d","spin":"dn","E":-0.24,"dos":-0.01},{"orb":"d","spin":"dn","E":0,"dos":0},{"orb":"d","spin":"dn","E":0.56,"dos":-0.01},{"orb":"d","spin":"dn","E":0.78,"dos":-0.1},{"orb":"d","spin":"dn","E":0.89,"dos":-0.21},{"orb":"d","spin":"dn","E":0.95,"dos":-0.7},{"orb":"d","spin":"dn","E":1.0,"dos":-1.53},{"orb":"d","spin":"dn","E":1.03,"dos":-1.62},{"orb":"d","spin":"dn","E":1.06,"dos":-1.29},{"orb":"d","spin":"dn","E":1.11,"dos":-1.57},{"orb":"d","spin":"dn","E":1.17,"dos":-1.57},{"orb":"d","spin":"dn","E":1.24,"dos":-1.95},{"orb":"d","spin":"dn","E":1.32,"dos":-2.44},{"orb":"d","spin":"dn","E":1.4,"dos":-3.0},{"orb":"d","spin":"dn","E":1.44,"dos":-2.02},{"orb":"d","spin":"dn","E":1.49,"dos":-1.34},{"orb":"d","spin":"dn","E":1.53,"dos":-1.5},{"orb":"d","spin":"dn","E":1.57,"dos":-1.46},{"orb":"d","spin":"dn","E":1.65,"dos":-1.97},{"orb":"d","spin":"dn","E":1.72,"dos":-1.62},{"orb":"d","spin":"dn","E":1.8,"dos":-1.74},{"orb":"d","spin":"dn","E":1.87,"dos":-1.15},{"orb":"d","spin":"dn","E":1.93,"dos":-1.29},{"orb":"d","spin":"dn","E":2.0,"dos":-1.11},{"orb":"d","spin":"dn","E":2.08,"dos":-1.25},{"orb":"d","spin":"dn","E":2.14,"dos":-1.32},{"orb":"d","spin":"dn","E":2.2,"dos":-0.98},{"orb":"d","spin":"dn","E":2.28,"dos":-0.59},{"orb":"d","spin":"dn","E":2.39,"dos":-0.5},{"orb":"d","spin":"dn","E":2.5,"dos":-0.54},{"orb":"d","spin":"dn","E":2.58,"dos":-0.42},{"orb":"d","spin":"dn","E":2.63,"dos":-0.26},{"orb":"d","spin":"dn","E":2.85,"dos":-0.24},{"orb":"d","spin":"dn","E":3.01,"dos":-0.29},{"orb":"d","spin":"dn","E":3.2,"dos":-0.14},{"orb":"d","spin":"dn","E":3.39,"dos":-0.1},{"orb":"d","spin":"dn","E":3.61,"dos":-0.17},{"orb":"d","spin":"dn","E":3.75,"dos":-0.24},{"orb":"d","spin":"dn","E":3.94,"dos":-0.1},{"orb":"d","spin":"dn","E":4.26,"dos":-0.03},{"orb":"d","spin":"dn","E":4.64,"dos":-0.01},{"orb":"d","spin":"dn","E":5.08,"dos":-0.03},{"orb":"d","spin":"dn","E":5.27,"dos":-0.14},{"orb":"d","spin":"dn","E":5.41,"dos":-0.1},{"orb":"d","spin":"dn","E":5.51,"dos":-0.14},{"orb":"d","spin":"dn","E":5.6,"dos":-0.29},{"orb":"d","spin":"dn","E":5.68,"dos":-0.24},{"orb":"d","spin":"dn","E":5.87,"dos":-0.19},{"orb":"d","spin":"dn","E":6,"dos":-0.19}
],
"sb": [
{"orb":"s","spin":"up","E":-6,"dos":0.03},{"orb":"s","spin":"up","E":-4.6,"dos":0.02},{"orb":"s","spin":"up","E":-4.4,"dos":0.0},{"orb":"s","spin":"up","E":1.55,"dos":0.0},{"orb":"s","spin":"up","E":1.71,"dos":0.03},{"orb":"s","spin":"up","E":1.8,"dos":0.11},{"orb":"s","spin":"up","E":1.9,"dos":0.1},{"orb":"s","spin":"up","E":2.0,"dos":0.13},{"orb":"s","spin":"up","E":2.09,"dos":0.09},{"orb":"s","spin":"up","E":2.2,"dos":0.04},{"orb":"s","spin":"up","E":2.3,"dos":0.06},{"orb":"s","spin":"up","E":2.4,"dos":0.11},{"orb":"s","spin":"up","E":2.47,"dos":0.06},{"orb":"s","spin":"up","E":2.58,"dos":0.03},{"orb":"s","spin":"up","E":2.96,"dos":0.03},{"orb":"s","spin":"up","E":3.39,"dos":0.06},{"orb":"s","spin":"up","E":3.72,"dos":0.09},{"orb":"s","spin":"up","E":4.15,"dos":0.06},{"orb":"s","spin":"up","E":4.59,"dos":0.01},{"orb":"s","spin":"up","E":5.03,"dos":0.0},{"orb":"s","spin":"up","E":6,"dos":0.01},
{"orb":"s","spin":"dn","E":-6,"dos":-0.03},{"orb":"s","spin":"dn","E":-4.6,"dos":-0.02},{"orb":"s","spin":"dn","E":-4.4,"dos":0.0},{"orb":"s","spin":"dn","E":1.55,"dos":0.0},{"orb":"s","spin":"dn","E":1.71,"dos":-0.04},{"orb":"s","spin":"dn","E":1.81,"dos":-0.12},{"orb":"s","spin":"dn","E":1.91,"dos":-0.1},{"orb":"s","spin":"dn","E":2.02,"dos":-0.06},{"orb":"s","spin":"dn","E":2.13,"dos":-0.07},{"orb":"s","spin":"dn","E":2.22,"dos":-0.11},{"orb":"s","spin":"dn","E":2.33,"dos":-0.06},{"orb":"s","spin":"dn","E":2.41,"dos":-0.06},{"orb":"s","spin":"dn","E":2.52,"dos":-0.13},{"orb":"s","spin":"dn","E":2.59,"dos":-0.06},{"orb":"s","spin":"dn","E":2.96,"dos":-0.03},{"orb":"s","spin":"dn","E":3.39,"dos":-0.06},{"orb":"s","spin":"dn","E":3.8,"dos":-0.11},{"orb":"s","spin":"dn","E":4.15,"dos":-0.07},{"orb":"s","spin":"dn","E":4.59,"dos":-0.01},{"orb":"s","spin":"dn","E":6,"dos":-0.01},
{"orb":"d","spin":"up","E":-6,"dos":0.0},{"orb":"d","spin":"up","E":-3.41,"dos":0.01},{"orb":"d","spin":"up","E":-3.11,"dos":0.05},{"orb":"d","spin":"up","E":-2.87,"dos":0.04},{"orb":"d","spin":"up","E":-2.6,"dos":0.02},{"orb":"d","spin":"up","E":-2.27,"dos":0.03},{"orb":"d","spin":"up","E":-2.0,"dos":0.02},{"orb":"d","spin":"up","E":-1.78,"dos":0.05},{"orb":"d","spin":"up","E":-1.62,"dos":0.03},{"orb":"d","spin":"up","E":-1.48,"dos":0.04},{"orb":"d","spin":"up","E":-1.35,"dos":0.02},{"orb":"d","spin":"up","E":-0.97,"dos":0.01},{"orb":"d","spin":"up","E":0,"dos":0.0},{"orb":"d","spin":"up","E":1.27,"dos":0.03},{"orb":"d","spin":"up","E":1.49,"dos":0.03},{"orb":"d","spin":"up","E":1.81,"dos":0.0},{"orb":"d","spin":"up","E":2.2,"dos":0.01},{"orb":"d","spin":"up","E":2.52,"dos":0.02},{"orb":"d","spin":"up","E":2.9,"dos":0.03},{"orb":"d","spin":"up","E":3.39,"dos":0.04},{"orb":"d","spin":"up","E":3.72,"dos":0.05},{"orb":"d","spin":"up","E":4.15,"dos":0.03},{"orb":"d","spin":"up","E":4.59,"dos":0.0},{"orb":"d","spin":"up","E":5.03,"dos":0.01},{"orb":"d","spin":"up","E":5.24,"dos":0.06},{"orb":"d","spin":"up","E":5.35,"dos":0.05},{"orb":"d","spin":"up","E":5.51,"dos":0.07},{"orb":"d","spin":"up","E":5.79,"dos":0.05},{"orb":"d","spin":"up","E":6,"dos":0.06},
{"orb":"d","spin":"dn","E":-6,"dos":-0.01},{"orb":"d","spin":"dn","E":-3.41,"dos":-0.01},{"orb":"d","spin":"dn","E":-2.87,"dos":-0.01},{"orb":"d","spin":"dn","E":-2.6,"dos":-0.03},{"orb":"d","spin":"dn","E":-2.22,"dos":-0.03},{"orb":"d","spin":"dn","E":-1.78,"dos":-0.03},{"orb":"d","spin":"dn","E":-1.51,"dos":-0.02},{"orb":"d","spin":"dn","E":-1.21,"dos":-0.04},{"orb":"d","spin":"dn","E":-1.13,"dos":-0.01},{"orb":"d","spin":"dn","E":-1.0,"dos":-0.02},{"orb":"d","spin":"dn","E":-0.94,"dos":-0.06},{"orb":"d","spin":"dn","E":-0.86,"dos":-0.03},{"orb":"d","spin":"dn","E":-0.7,"dos":-0.06},{"orb":"d","spin":"dn","E":-0.59,"dos":-0.07},{"orb":"d","spin":"dn","E":-0.47,"dos":-0.09},{"orb":"d","spin":"dn","E":-0.4,"dos":-0.05},{"orb":"d","spin":"dn","E":-0.32,"dos":-0.01},{"orb":"d","spin":"dn","E":0,"dos":0.0},{"orb":"d","spin":"dn","E":1.0,"dos":-0.01},{"orb":"d","spin":"dn","E":1.11,"dos":-0.03},{"orb":"d","spin":"dn","E":1.33,"dos":-0.02},{"orb":"d","spin":"dn","E":1.55,"dos":-0.01},{"orb":"d","spin":"dn","E":2.09,"dos":-0.03},{"orb":"d","spin":"dn","E":2.63,"dos":-0.03},{"orb":"d","spin":"dn","E":3.39,"dos":-0.02},{"orb":"d","spin":"dn","E":3.83,"dos":-0.04},{"orb":"d","spin":"dn","E":4.26,"dos":-0.03},{"orb":"d","spin":"dn","E":4.64,"dos":0.0},{"orb":"d","spin":"dn","E":5.08,"dos":-0.01},{"orb":"d","spin":"dn","E":5.27,"dos":-0.06},{"orb":"d","spin":"dn","E":5.51,"dos":-0.06},{"orb":"d","spin":"dn","E":5.79,"dos":-0.08},{"orb":"d","spin":"dn","E":6,"dos":-0.07},
{"orb":"p","spin":"up","E":-6,"dos":0.3},{"orb":"p","spin":"up","E":-5.91,"dos":0.26},{"orb":"p","spin":"up","E":-5.8,"dos":0.15},{"orb":"p","spin":"up","E":-5.7,"dos":0.07},{"orb":"p","spin":"up","E":-5.59,"dos":0.05},{"orb":"p","spin":"up","E":-5.42,"dos":0.13},{"orb":"p","spin":"up","E":-5.04,"dos":0.15},{"orb":"p","spin":"up","E":-4.64,"dos":0.18},{"orb":"p","spin":"up","E":-4.55,"dos":0.21},{"orb":"p","spin":"up","E":-4.47,"dos":0.31},{"orb":"p","spin":"up","E":-4.4,"dos":0.5},{"orb":"p","spin":"up","E":-4.35,"dos":0.56},{"orb":"p","spin":"up","E":-4.27,"dos":0.71},{"orb":"p","spin":"up","E":-4.22,"dos":0.59},{"orb":"p","spin":"up","E":-4.15,"dos":0.46},{"orb":"p","spin":"up","E":-4.07,"dos":0.31},{"orb":"p","spin":"up","E":-3.93,"dos":0.17},{"orb":"p","spin":"up","E":-3.79,"dos":0.08},{"orb":"p","spin":"up","E":-3.66,"dos":0.0},{"orb":"p","spin":"up","E":-3.41,"dos":0.02},{"orb":"p","spin":"up","E":-3.14,"dos":0.06},{"orb":"p","spin":"up","E":-2.95,"dos":0.08},{"orb":"p","spin":"up","E":-2.76,"dos":0.04},{"orb":"p","spin":"up","E":-2.33,"dos":0.03},{"orb":"p","spin":"up","E":-2.11,"dos":0.04},{"orb":"p","spin":"up","E":-1.78,"dos":0.02},{"orb":"p","spin":"up","E":-1.35,"dos":0.01},{"orb":"p","spin":"up","E":-1.21,"dos":0.01},{"orb":"p","spin":"up","E":-1.02,"dos":0.07},{"orb":"p","spin":"up","E":-0.32,"dos":0.07},{"orb":"p","spin":"up","E":0,"dos":0.02},{"orb":"p","spin":"up","E":0.18,"dos":0.01},{"orb":"p","spin":"up","E":0.73,"dos":0.02},{"orb":"p","spin":"up","E":1.27,"dos":0.02},{"orb":"p","spin":"up","E":1.43,"dos":0.03},{"orb":"p","spin":"up","E":1.81,"dos":0.04},{"orb":"p","spin":"up","E":2.2,"dos":0.04},{"orb":"p","spin":"up","E":2.52,"dos":0.07},{"orb":"p","spin":"up","E":2.66,"dos":0.08},{"orb":"p","spin":"up","E":2.74,"dos":0.14},{"orb":"p","spin":"up","E":2.85,"dos":0.08},{"orb":"p","spin":"up","E":3.12,"dos":0.04},{"orb":"p","spin":"up","E":3.39,"dos":0.04},{"orb":"p","spin":"up","E":3.72,"dos":0.08},{"orb":"p","spin":"up","E":3.99,"dos":0.05},{"orb":"p","spin":"up","E":4.32,"dos":0.02},{"orb":"p","spin":"up","E":4.64,"dos":0.0},{"orb":"p","spin":"up","E":5.03,"dos":0.02},{"orb":"p","spin":"up","E":5.22,"dos":0.11},{"orb":"p","spin":"up","E":5.35,"dos":0.1},{"orb":"p","spin":"up","E":5.54,"dos":0.13},{"orb":"p","spin":"up","E":5.79,"dos":0.1},{"orb":"p","spin":"up","E":6,"dos":0.1},
{"orb":"p","spin":"dn","E":-6,"dos":-0.27},{"orb":"p","spin":"dn","E":-5.91,"dos":-0.19},{"orb":"p","spin":"dn","E":-5.8,"dos":-0.12},{"orb":"p","spin":"dn","E":-5.64,"dos":-0.05},{"orb":"p","spin":"dn","E":-5.59,"dos":-0.04},{"orb":"p","spin":"dn","E":-5.42,"dos":-0.11},{"orb":"p","spin":"dn","E":-5.04,"dos":-0.14},{"orb":"p","spin":"dn","E":-4.5,"dos":-0.17},{"orb":"p","spin":"dn","E":-4.36,"dos":-0.22},{"orb":"p","spin":"dn","E":-4.28,"dos":-0.3},{"orb":"p","spin":"dn","E":-4.24,"dos":-0.57},{"orb":"p","spin":"dn","E":-4.2,"dos":-0.89},{"orb":"p","spin":"dn","E":-4.16,"dos":-1.11},{"orb":"p","spin":"dn","E":-4.12,"dos":-0.85},{"orb":"p","spin":"dn","E":-4.07,"dos":-0.59},{"orb":"p","spin":"dn","E":-3.98,"dos":-0.53},{"orb":"p","spin":"dn","E":-3.92,"dos":-0.51},{"orb":"p","spin":"dn","E":-3.85,"dos":-0.31},{"orb":"p","spin":"dn","E":-3.77,"dos":-0.15},{"orb":"p","spin":"dn","E":-3.66,"dos":-0.01},{"orb":"p","spin":"dn","E":-3.41,"dos":-0.01},{"orb":"p","spin":"dn","E":-2.87,"dos":-0.01},{"orb":"p","spin":"dn","E":-2.33,"dos":-0.03},{"orb":"p","spin":"dn","E":-1.78,"dos":-0.03},{"orb":"p","spin":"dn","E":-1.24,"dos":-0.02},{"orb":"p","spin":"dn","E":-0.7,"dos":-0.01},{"orb":"p","spin":"dn","E":0,"dos":-0.01},{"orb":"p","spin":"dn","E":1.0,"dos":-0.02},{"orb":"p","spin":"dn","E":1.08,"dos":-0.06},{"orb":"p","spin":"dn","E":1.16,"dos":-0.08},{"orb":"p","spin":"dn","E":1.33,"dos":-0.08},{"orb":"p","spin":"dn","E":1.43,"dos":-0.04},{"orb":"p","spin":"dn","E":1.55,"dos":-0.03},{"orb":"p","spin":"dn","E":1.65,"dos":-0.06},{"orb":"p","spin":"dn","E":1.81,"dos":-0.06},{"orb":"p","spin":"dn","E":2.09,"dos":-0.05},{"orb":"p","spin":"dn","E":2.36,"dos":-0.05},{"orb":"p","spin":"dn","E":2.63,"dos":-0.06},{"orb":"p","spin":"dn","E":2.88,"dos":-0.1},{"orb":"p","spin":"dn","E":3.01,"dos":-0.15},{"orb":"p","spin":"dn","E":3.18,"dos":-0.08},{"orb":"p","spin":"dn","E":3.45,"dos":-0.07},{"orb":"p","spin":"dn","E":3.72,"dos":-0.11},{"orb":"p","spin":"dn","E":3.83,"dos":-0.12},{"orb":"p","spin":"dn","E":4.05,"dos":-0.07},{"orb":"p","spin":"dn","E":4.43,"dos":-0.03},{"orb":"p","spin":"dn","E":4.81,"dos":-0.02},{"orb":"p","spin":"dn","E":5.03,"dos":-0.01},{"orb":"p","spin":"dn","E":5.16,"dos":-0.06},{"orb":"p","spin":"dn","E":5.3,"dos":-0.11},{"orb":"p","spin":"dn","E":5.52,"dos":-0.1},{"orb":"p","spin":"dn","E":5.79,"dos":-0.11},{"orb":"p","spin":"dn","E":6,"dos":-0.11}
]
},
"vconcat": [
{
  "width": 735, "height": 340,
  "resolve": {"scale": {"y": "independent"}, "axis": {"y": "independent"}},
  "layer": [
    {"data": {"name": "tot"}, "mark": {"type": "line", "color": "#000", "strokeWidth": 1.1},
     "encoding": {
       "x": {"field": "E", "type": "quantitative", "scale": {"domain": [-6, 6], "nice": false}, "axis": null},
       "y": {"field": "dos", "type": "quantitative", "scale": {"domain": [-10.88, 9], "nice": false, "zero": false}, "axis": {"orient": "left", "values": [-10, -8, -6, -4, -2, 0, 2, 4, 6, 8], "labelExpr": "datum.value == 8 ? '8' : datum.value == 4 ? '4' : datum.value == 0 ? '0' : datum.value == -4 ? '-4' : datum.value == -8 ? '-8' : ''"}},
       "detail": {"field": "spin"}
     }},
    {"data": {"values": [{}]}, "mark": {"type": "rule", "color": "#000", "strokeWidth": 2}, "encoding": {"x": {"datum": 0}}},
    {"data": {"values": [{}]}, "mark": {"type": "rule", "color": "#000", "strokeWidth": 2}, "encoding": {"y": {"datum": 0, "type": "quantitative", "scale": {"domain": [-10.88, 9], "nice": false, "zero": false}, "axis": null}}},
    {"data": {"values": [{}]}, "mark": {"type": "text", "text": "CoFeTiSb", "font": "Liberation Serif", "fontWeight": "bold", "fontSize": 25, "align": "left", "baseline": "alphabetic"}, "encoding": {"x": {"datum": 3.47}, "y": {"datum": 7.1, "type": "quantitative", "scale": {"domain": [-10.88, 9], "nice": false, "zero": false}, "axis": null}}}
  ]
},
{
  "width": 735, "height": 313,
  "layer": [
    {"data": {"name": "co"}, "mark": {"type": "line", "strokeWidth": 1.1},
     "encoding": {
       "x": {"field": "E", "type": "quantitative", "scale": {"domain": [-6, 6], "nice": false}, "axis": null},
       "y": {"field": "dos", "type": "quantitative", "scale": {"domain": [-4.38, 5.25], "nice": false, "zero": false}, "axis": {"values": [-4, -3, -2, -1, 0, 1, 2, 3, 4, 5], "labelExpr": "datum.value % 2 === 0 ? toString(datum.value) : ''"}},
       "color": {"field": "orb", "type": "nominal", "scale": {"domain": ["s", "p", "d"], "range": ["#ff0000", "#00ff00", "#0000ff"]},
         "legend": {"orient": "none", "legendX": 639, "legendY": 17, "title": null, "symbolType": "M-1.9,0H1.9", "symbolSize": 400, "symbolStrokeWidth": 2, "labelOffset": 13, "rowPadding": 0, "padding": 0, "labelFont": "Liberation Sans", "labelFontSize": 15, "labelColor": "#000"}},
       "detail": {"field": "spin"}
     }},
    {"data": {"values": [{}]}, "mark": {"type": "rule", "color": "#000", "strokeWidth": 2}, "encoding": {"x": {"datum": 0}}},
    {"data": {"values": [{}]}, "mark": {"type": "text", "text": "Co", "font": "Liberation Serif", "fontSize": 26, "align": "left", "baseline": "alphabetic"}, "encoding": {"x": {"datum": 0.35}, "y": {"datum": 3.3}}}
  ]
},
{
  "width": 735, "height": 310,
  "layer": [
    {"data": {"name": "fe"}, "mark": {"type": "line", "strokeWidth": 1.1},
     "encoding": {
       "x": {"field": "E", "type": "quantitative", "scale": {"domain": [-6, 6], "nice": false}, "axis": null},
       "y": {"field": "dos", "type": "quantitative", "scale": {"domain": [-4, 5.55], "nice": false, "zero": false}, "axis": {"values": [-4, -3, -2, -1, 0, 1, 2, 3, 4, 5], "labelExpr": "datum.value % 2 === 0 ? toString(datum.value) : ''", "title": "DOS (state/eV)", "titleFont": "Liberation Serif", "titleFontSize": 32, "titleFontWeight": "normal", "titleColor": "#000", "titleAngle": 270, "titleAlign": "center", "titleBaseline": "alphabetic", "titleX": -68, "titleY": 204}},
       "color": {"field": "orb", "type": "nominal", "legend": null},
       "detail": {"field": "spin"}
     }},
    {"data": {"values": [{}]}, "mark": {"type": "rule", "color": "#000", "strokeWidth": 2}, "encoding": {"x": {"datum": 0}}},
    {"data": {"values": [{}]}, "mark": {"type": "text", "text": "Fe", "font": "Liberation Serif", "fontSize": 26, "align": "left", "baseline": "alphabetic"}, "encoding": {"x": {"datum": 0.4}, "y": {"datum": 3.86}}}
  ]
},
{
  "width": 735, "height": 307,
  "layer": [
    {"data": {"name": "ti"}, "mark": {"type": "line", "strokeWidth": 1.1},
     "encoding": {
       "x": {"field": "E", "type": "quantitative", "scale": {"domain": [-6, 6], "nice": false}, "axis": null},
       "y": {"field": "dos", "type": "quantitative", "scale": {"domain": [-3.18, 3.24], "nice": false, "zero": false}, "axis": {"values": [-3, -2, -1, 0, 1, 2, 3], "labelExpr": "datum.value % 2 === 0 ? toString(datum.value) : ''"}},
       "color": {"field": "orb", "type": "nominal", "legend": null},
       "detail": {"field": "spin"}
     }},
    {"data": {"values": [{}]}, "mark": {"type": "rule", "color": "#000", "strokeWidth": 2}, "encoding": {"x": {"datum": 0}}},
    {"data": {"values": [{}]}, "mark": {"type": "text", "text": "Ti", "font": "Liberation Serif", "fontSize": 26, "align": "left", "baseline": "alphabetic"}, "encoding": {"x": {"datum": 0.26}, "y": {"datum": 2.24}}}
  ]
},
{
  "width": 735, "height": 310,
  "layer": [
    {"data": {"name": "sb"}, "mark": {"type": "line", "strokeWidth": 1.1},
     "encoding": {
       "x": {"field": "E", "type": "quantitative", "scale": {"domain": [-6, 6], "nice": false}, "axis": {"values": [-6, -5, -4, -3, -2, -1, 0, 1, 2, 3, 4, 5, 6], "labelExpr": "datum.value % 2 === 0 ? toString(datum.value) : ''", "labelPadding": 6, "title": "E-E", "titleFont": "Liberation Serif", "titleFontSize": 30, "titleFontWeight": "normal", "titleColor": "#000", "titleAlign": "left", "titleBaseline": "alphabetic", "titleX": 326.6, "titleY": 83}},
       "y": {"field": "dos", "type": "quantitative", "scale": {"domain": [-1.41, 1.3], "nice": false, "zero": false}, "axis": {"values": [-1.2, -0.8, -0.4, 0, 0.4, 0.8, 1.2], "labelExpr": "(abs(abs(datum.value) - 0.8) < 0.01 || abs(datum.value) < 0.01) ? ((datum.value < -0.01 ? '-' : '') + replace(format(abs(datum.value), '.1f'), '.', ',')) : ''"}},
       "color": {"field": "orb", "type": "nominal", "legend": null},
       "detail": {"field": "spin"}
     }},
    {"data": {"values": [{}]}, "mark": {"type": "rule", "color": "#000", "strokeWidth": 2}, "encoding": {"x": {"datum": 0}}},
    {"data": {"values": [{}]}, "mark": {"type": "text", "text": "Sb", "font": "Liberation Serif", "fontSize": 26, "align": "left", "baseline": "alphabetic"}, "encoding": {"x": {"datum": 0.32}, "y": {"datum": 0.81}}},
    {"data": {"values": [{}]}, "mark": {"type": "text", "text": "F", "font": "Liberation Serif", "fontSize": 22, "align": "left", "baseline": "alphabetic"}, "encoding": {"x": {"datum": 0.14}, "y": {"datum": -2.21}}},
    {"data": {"values": [{}]}, "mark": {"type": "text", "text": "(eV)", "font": "Liberation Serif", "fontSize": 30, "align": "left", "baseline": "alphabetic"}, "encoding": {"x": {"datum": 0.46}, "y": {"datum": -2.133}}}
  ]
}
]
}
